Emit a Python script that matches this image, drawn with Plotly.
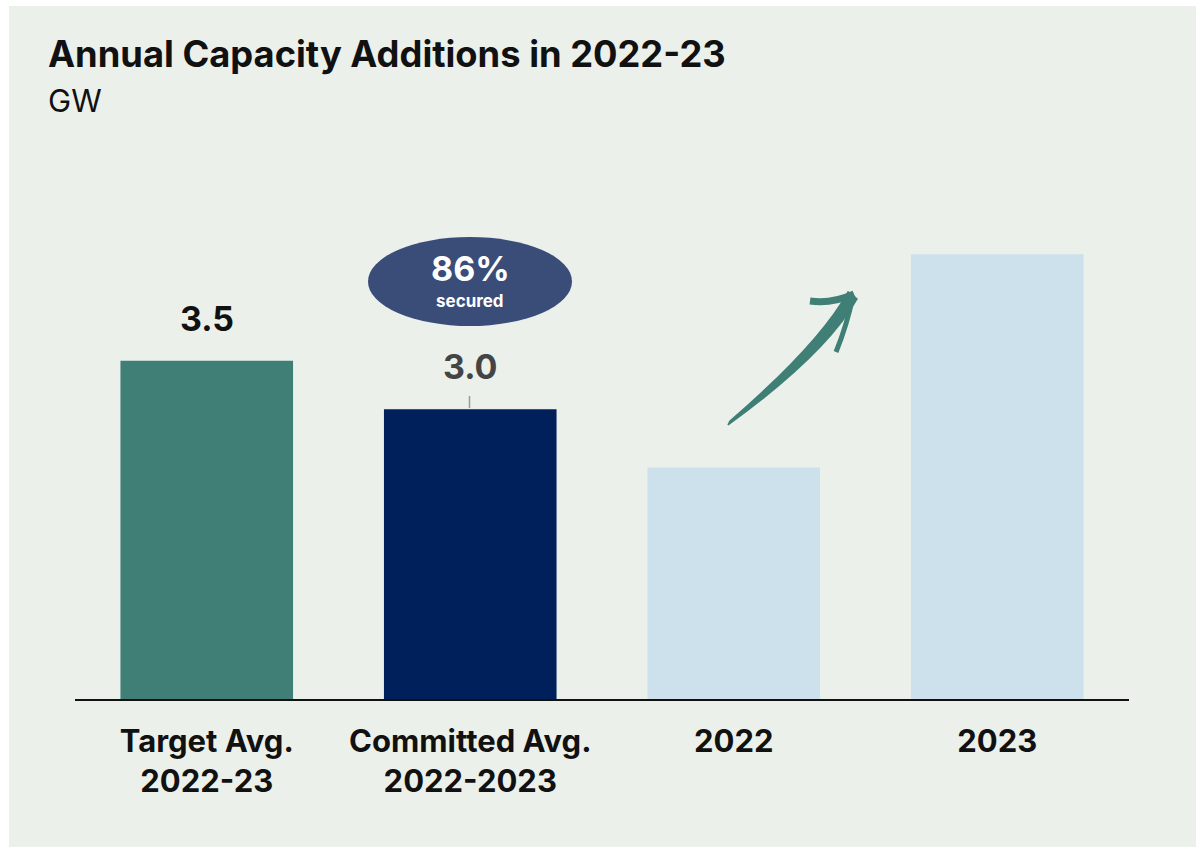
import plotly.graph_objects as go

# ---- data ----
categories = ["Target Avg.<br>2022-23", "Committed Avg.<br>2022-2023", "2022", "2023"]
values = [3.5, 3.0, 2.4, 4.6]
bar_colors = ["#3F7F76", "#00205B", "#CCE1EC", "#CCE1EC"]
label_flags = [True, True, False, False]
label_colors = ["#111111", "#444444", "#111111", "#111111"]
secured_pct = 86
title_text = "Annual Capacity Additions in 2022-23"
unit_text = "GW"

W, H = 1196, 847
L, R, T, B = 75, 67, 150, 147
PW, PH = W - L - R, H - T - B
FONT = "Inter"


def px(x):
    return (x - L) / PW


def py(y):
    return (H - B - y) / PH


fig = go.Figure()
fig.add_trace(go.Bar(
    x=categories, y=values, marker=dict(color=bar_colors, line=dict(width=0)),
    width=0.655, hoverinfo="skip", showlegend=False,
))

annotations = []
for c, v, f, col in zip(categories, values, label_flags, label_colors):
    if f:
        annotations.append(dict(
            x=c, y=v, xref="x", yref="y", text=f"{v:.1f}", showarrow=False,
            yanchor="bottom", yshift=20,
            font=dict(family=FONT, size=34, color=col, weight="bold"),
        ))

# title and unit
annotations.append(dict(x=px(46), y=py(30), xref="paper", yref="paper", xanchor="left", yanchor="top",
                        text=title_text, showarrow=False,
                        font=dict(family=FONT, size=36.3, color="#111111", weight="bold")))
annotations.append(dict(x=px(46), y=py(80), xref="paper", yref="paper", xanchor="left", yanchor="top",
                        text=unit_text, showarrow=False,
                        font=dict(family=FONT, size=31, color="#111111")))
# secured bubble text
annotations.append(dict(x=px(470), y=py(268), xref="paper", yref="paper", xanchor="center", yanchor="middle",
                        text=f"{secured_pct}%", showarrow=False,
                        font=dict(family=FONT, size=34, color="white", weight="bold")))
annotations.append(dict(x=px(470), y=py(301), xref="paper", yref="paper", xanchor="center", yanchor="middle",
                        text="secured", showarrow=False,
                        font=dict(family=FONT, size=17, color="white", weight="bold")))


def P(x, y):
    return f"{px(x):.5f},{py(y):.5f}"


TEAL = "#3F7F76"
shapes = [
    # background panel
    dict(type="rect", xref="paper", yref="paper", x0=px(9), x1=px(W + 5), y0=py(H + 5), y1=py(6),
         fillcolor="#EBF0EB", line=dict(width=0), layer="below"),
    # baseline
    dict(type="line", xref="paper", yref="paper", x0=0, x1=1, y0=0, y1=0,
         line=dict(color="#111111", width=2), layer="above"),
    # bubble
    dict(type="circle", xref="paper", yref="paper", x0=px(368), x1=px(572), y0=py(326), y1=py(237),
         fillcolor="#3A4C78", line=dict(width=0)),
    # small tick above committed bar
    dict(type="line", xref="paper", yref="paper", x0=px(469.5), x1=px(469.5), y0=py(408), y1=py(396),
         line=dict(color="#9A9A9A", width=1.5)),
    # arrow body (tapered)
    dict(type="path", xref="paper", yref="paper",
         path=(f"M {P(728,425)} Q {P(826,354)} {P(857,299)} L {P(848,292)} "
               f"Q {P(819,344)} {P(730,421)} Z"),
         fillcolor=TEAL, line=dict(color=TEAL, width=1.5)),
    # arrow head upper barb
    dict(type="path", xref="paper", yref="paper",
         path=f"M {P(810,301)} Q {P(832,304)} {P(854,294)}",
         line=dict(color=TEAL, width=7)),
    # arrow head lower barb
    dict(type="path", xref="paper", yref="paper",
         path=f"M {P(853,296)} Q {P(847,325)} {P(836,352)}",
         line=dict(color=TEAL, width=5)),
]

fig.update_layout(
    width=W, height=H,
    margin=dict(l=L, r=R, t=T, b=B, pad=0),
    paper_bgcolor="white", plot_bgcolor="rgba(0,0,0,0)",
    xaxis=dict(range=[-0.5, 3.5], showgrid=False, zeroline=False, showline=False, ticks="",
               tickfont=dict(family=FONT, size=31, color="#111111", weight="bold"),
               ticklabelstandoff=20, fixedrange=True),
    yaxis=dict(range=[0, PH / 96.9], visible=False, showgrid=False, zeroline=False, fixedrange=True),
    annotations=annotations,
    shapes=shapes,
    bargap=0.345,
)

fig.write_html("out.html", config={"displayModeBar": False})
